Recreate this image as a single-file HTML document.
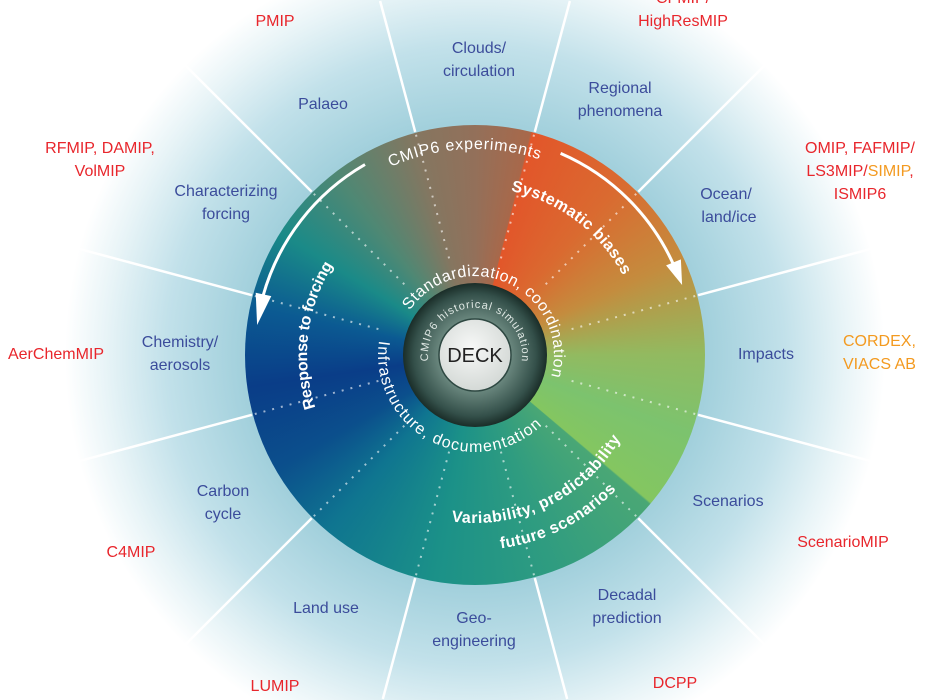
<!DOCTYPE html>
<html><head><meta charset="utf-8"><style>
html,body{margin:0;padding:0;background:#fff;width:926px;height:700px;overflow:hidden;}
#wrap{position:relative;width:926px;height:700px;overflow:hidden;background:radial-gradient(circle at 475px 355px,#98cbd9 0px,#a2d0dc 232px,#c2e1ea 310px,#e8f4f7 370px,#fff 410px);}
#disk{position:absolute;left:245px;top:125px;width:460px;height:460px;border-radius:50%;
background:conic-gradient(from 0deg,#93705a 0deg,#a8684a 14deg,#e2562a 14.5deg,#da6a30 40deg,#c48c3e 65deg,#92ba60 90deg,#7cc36e 110deg,#84c660 130deg,#4aa775 130.5deg,#2f9c80 160deg,#1b9188 190deg,#0f7590 220deg,#0b4f8c 240deg,#0a3d88 262deg,#0b5a92 282deg,#1a8a88 302deg,#4e8874 322deg,#857660 345deg,#93705a 360deg);}
svg{position:absolute;left:0;top:0;overflow:hidden;}
.o{font-family:"Liberation Sans",sans-serif;font-size:16px;text-anchor:middle;}
.b{fill:#3b4c9b}.r{fill:#e8262c}.y{fill:#f39a20}
.w{font-family:"Liberation Sans",sans-serif;fill:#fff;}
</style></head><body><div id="wrap"><div id="disk"></div>
<svg width="926" height="700" viewBox="0 0 926 700">
<defs>
<radialGradient id="ring" cx="50%" cy="50%" r="50%"><stop offset="0" stop-color="#9ab3aa"/><stop offset="0.5" stop-color="#6a877e"/><stop offset="0.85" stop-color="#34504a"/><stop offset="1" stop-color="#1a2d28"/></radialGradient>
<radialGradient id="deck" cx="45%" cy="40%" r="60%"><stop offset="0" stop-color="#f7f8f7"/><stop offset="1" stop-color="#d4d9d6"/></radialGradient>
<path id="p1" d="M384.7,169.8 A206,206 0 0 1 545.5,161.4"/>
<path id="p2" d="M498.4,188.6 A168,168 0 0 1 628.5,286.7"/>
<path id="p3" d="M326.7,433.9 A168,168 0 0 1 350.2,242.6"/>
<path id="p4" d="M431.5,517.3 A168,168 0 0 0 629.6,420.6"/>
<path id="p5" d="M481.8,549.9 A195,195 0 0 0 628.7,475.1"/>
<path id="p6" d="M410.3,309.7 A79,79 0 0 1 551.3,375.4"/>
<path id="p7" d="M383.9,321.8 A97,97 0 0 0 554.5,410.6"/>
<path id="p8" d="M428.2,359.1 A47,47 0 1 1 521.8,359.1"/>
</defs>
<g id="spokes"></g>
<path d="M560.6,153.4 A219,219 0 0 1 675,268" fill="none" stroke="#fff" stroke-width="3"/>
<polygon points="682.1,285 680.9,259.4 666.1,265.4" fill="#fff"/>
<path d="M365,164.5 A220,220 0 0 0 263,296" fill="none" stroke="#fff" stroke-width="3"/>
<polygon points="257.1,325 271.3,296.1 255.7,292.7" fill="#fff"/>
<circle cx="475" cy="355" r="72" fill="url(#ring)"/>
<circle cx="475" cy="355" r="36" fill="url(#deck)" stroke="#2e4842" stroke-width="1.5"/>
<text x="475" y="362" text-anchor="middle" font-family="Liberation Sans,sans-serif" font-size="20" fill="#222">DECK</text>
<text class="w" font-size="11"><textPath href="#p8" startOffset="50%" text-anchor="middle" textLength="160" lengthAdjust="spacing" style="fill:#dfe8e4">CMIP6 historical simulation</textPath></text>
<text class="w" font-size="16"><textPath href="#p1" startOffset="50%" text-anchor="middle" textLength="152" lengthAdjust="spacing">CMIP6 experiments</textPath></text>
<text class="w" font-size="16" font-weight="bold"><textPath href="#p2" startOffset="50%" text-anchor="middle" textLength="145" lengthAdjust="spacing">Systematic biases</textPath></text>
<text class="w" font-size="16" font-weight="bold"><textPath href="#p3" startOffset="50%" text-anchor="middle" textLength="148" lengthAdjust="spacing">Response to forcing</textPath></text>
<text class="w" font-size="16" font-weight="bold"><textPath href="#p4" startOffset="50%" text-anchor="middle" textLength="200" lengthAdjust="spacing">Variability, predictability</textPath></text>
<text class="w" font-size="16" font-weight="bold"><textPath href="#p5" startOffset="50%" text-anchor="middle" textLength="132" lengthAdjust="spacing">future scenarios</textPath></text>
<text class="w" font-size="16"><textPath href="#p6" startOffset="50%" text-anchor="middle" textLength="222" lengthAdjust="spacing">Standardization, coordination</textPath></text>
<text class="w" font-size="16"><textPath href="#p7" startOffset="50%" text-anchor="middle" textLength="240" lengthAdjust="spacing">Infrastructure, documentation</textPath></text>
<g class="o b">
<text x="479" y="53">Clouds/</text><text x="479" y="76">circulation</text>
<text x="620" y="93">Regional</text><text x="620" y="116">phenomena</text>
<text x="726" y="199">Ocean/</text><text x="729" y="222">land/ice</text>
<text x="766" y="359">Impacts</text>
<text x="728" y="506">Scenarios</text>
<text x="627" y="600">Decadal</text><text x="627" y="623">prediction</text>
<text x="474" y="623">Geo-</text><text x="474" y="646">engineering</text>
<text x="326" y="613">Land use</text>
<text x="223" y="496">Carbon</text><text x="223" y="519">cycle</text>
<text x="180" y="347">Chemistry/</text><text x="180" y="370">aerosols</text>
<text x="226" y="196">Characterizing</text><text x="226" y="219">forcing</text>
<text x="323" y="109">Palaeo</text>
</g>
<g class="o r">
<text x="275" y="26">PMIP</text>
<text x="683" y="3">CFMIP/</text><text x="683" y="26">HighResMIP</text>
<text x="860" y="153">OMIP, FAFMIP/</text>
<text x="860" y="176">LS3MIP/<tspan class="y">SIMIP</tspan>,</text>
<text x="860" y="199">ISMIP6</text>
<text x="843" y="547">ScenarioMIP</text>
<text x="675" y="688">DCPP</text>
<text x="275" y="691">LUMIP</text>
<text x="131" y="557">C4MIP</text>
<text x="56" y="359">AerChemMIP</text>
<text x="100" y="153">RFMIP, DAMIP,</text><text x="100" y="176">VolMIP</text>
</g>
<g class="o y" style="text-anchor:start">
<text x="843" y="346">CORDEX,</text><text x="843" y="369">VIACS AB</text>
</g>
</svg>
<script>
var g=document.getElementById('spokes'),s='';
for(var k=0;k<12;k++){var a=(15+30*k)*Math.PI/180,sn=Math.sin(a),cs=Math.cos(a);
var dx=sn,dy=-cs,R=460;
if(dx>0)R=Math.min(R,(925-475)/dx); if(dx<0)R=Math.min(R,(475-1)/-dx);
if(dy>0)R=Math.min(R,(699-355)/dy); if(dy<0)R=Math.min(R,(355-1)/-dy);
function X(r){return (475+r*sn).toFixed(1);}function Y(r){return (355-r*cs).toFixed(1);}
s+='<line x1="'+X(100)+'" y1="'+Y(100)+'" x2="'+X(228)+'" y2="'+Y(228)+'" stroke="#fff" stroke-opacity="0.6" stroke-width="2" stroke-dasharray="2,7"/>';
s+='<line x1="'+X(231)+'" y1="'+Y(231)+'" x2="'+X(R)+'" y2="'+Y(R)+'" stroke="#fff" stroke-width="2.5"/>';}
g.innerHTML=s;
</script>
</div></body></html>
